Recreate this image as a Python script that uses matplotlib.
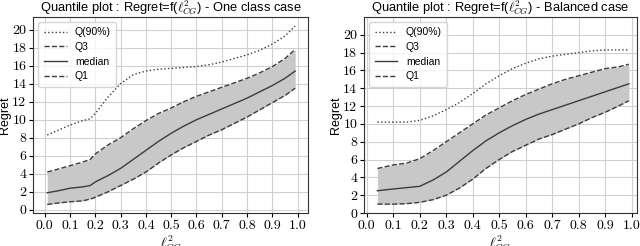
import numpy as np
import matplotlib
matplotlib.use("Agg")
import matplotlib.pyplot as plt

plt.rcParams["mathtext.fontset"] = "cm"
plt.rcParams["font.family"] = ["Liberation Sans", "DejaVu Sans"]

# one class case
x1 = [0.01, 0.05, 0.10, 0.15, 0.18, 0.20, 0.25, 0.30, 0.35, 0.40, 0.45, 0.50, 0.55, 0.60, 0.65, 0.70, 0.75, 0.80, 0.85, 0.90, 0.95, 0.99]
q90_1 = [8.3, 8.8, 9.4, 9.9, 10.1, 10.7, 12.5, 14.0, 15.0, 15.4, 15.6, 15.7, 15.8, 15.9, 16.1, 16.4, 16.8, 17.2, 17.7, 18.4, 19.3, 20.4]
q3_1 = [4.2, 4.5, 4.9, 5.3, 5.6, 6.2, 7.2, 8.0, 9.0, 9.9, 10.7, 11.3, 12.0, 12.6, 13.1, 13.6, 14.1, 14.6, 15.2, 15.9, 16.8, 17.8]
med_1 = [1.9, 2.1, 2.4, 2.55, 2.7, 3.1, 3.8, 4.6, 5.6, 6.6, 7.6, 8.5, 9.3, 10.0, 10.6, 11.2, 11.8, 12.4, 13.1, 13.8, 14.6, 15.4]
q1_1 = [0.6, 0.75, 0.9, 1.0, 1.2, 1.4, 2.0, 2.7, 3.4, 4.2, 5.2, 6.1, 6.9, 7.6, 8.3, 8.9, 9.6, 10.3, 11.1, 11.9, 12.7, 13.5]

# balanced case
x2 = [0.04, 0.10, 0.15, 0.20, 0.25, 0.30, 0.35, 0.40, 0.45, 0.50, 0.55, 0.60, 0.65, 0.70, 0.75, 0.80, 0.85, 0.90, 0.95, 0.99]
q90_2 = [10.2, 10.2, 10.2, 10.4, 10.9, 11.6, 12.4, 13.4, 14.5, 15.4, 16.2, 16.8, 17.3, 17.6, 17.8, 18.0, 18.2, 18.3, 18.3, 18.3]
q3_2 = [5.0, 5.4, 5.6, 6.1, 7.0, 8.0, 9.0, 10.0, 11.0, 11.8, 12.6, 13.3, 13.9, 14.5, 15.0, 15.4, 15.8, 16.2, 16.4, 16.7]
med_2 = [2.5, 2.7, 2.85, 3.0, 3.7, 4.6, 5.8, 7.0, 8.1, 9.0, 9.8, 10.5, 11.1, 11.6, 12.1, 12.6, 13.1, 13.6, 14.1, 14.5]
q1_2 = [1.0, 1.0, 1.05, 1.2, 1.5, 2.0, 2.8, 3.8, 5.0, 6.0, 6.9, 7.6, 8.3, 8.8, 9.4, 10.0, 10.7, 11.3, 12.0, 12.6]

xticks = [0.0, 0.1, 0.2, 0.3, 0.4, 0.5, 0.6, 0.7, 0.8, 0.9, 1.0]
xticklabels = ["0.0", "0.1", "0.2", "0.3", "0.4", "0.5", "0.6", "0.7", "0.8", "0.9", "1.0"]
yticks = [0, 2, 4, 6, 8, 10, 12, 14, 16, 18, 20]
yticklabels = ["0", "2", "4", "6", "8", "10", "12", "14", "16", "18", "20"]

line_c = "#3c3c3c"
fill_c = "#c8c8c8"

fig = plt.figure(figsize=(6.4, 2.46), dpi=100)
ax1 = fig.add_axes([0.052, 0.134, 0.429, 0.797])
ax2 = fig.add_axes([0.569, 0.134, 0.426, 0.797])

panels = [
    (ax1, x1, q90_1, q3_1, med_1, q1_1, "One class case", (-0.045, 1.04), (-0.35, 21.4)),
    (ax2, x2, q90_2, q3_2, med_2, q1_2, "Balanced case", (-0.01, 1.02), (0, 22)),
]

for ax, x, q90, q3, med, q1, name, xl, yl in panels:
    ax.fill_between(x, q1, q3, color=fill_c, lw=0)
    ax.plot(x, q90, ":", color=line_c, lw=1.0, label="Q(90%)")
    ax.plot(x, q3, "--", color=line_c, lw=1.0, label="Q3")
    ax.plot(x, med, "-", color=line_c, lw=1.0, label="median")
    ax.plot(x, q1, "--", color=line_c, lw=1.0, label="Q1")
    ax.set_xlim(*xl)
    ax.set_ylim(*yl)
    ax.set_xticks(xticks, labels=xticklabels, fontfamily="cmr10", fontsize=10)
    ax.set_yticks(yticks, labels=yticklabels, fontfamily="cmr10", fontsize=10)
    ax.grid(True, color="#d0d0d0", lw=0.8)
    ax.set_axisbelow(True)
    ax.tick_params(length=3, pad=2)
    for s in ax.spines.values():
        s.set_color("#333333")
    ax.set_title(r"Quantile plot : Regret=f($\ell^2_{CG}$) - " + name, fontsize=9.3, pad=2)
    ax.set_ylabel("Regret", fontsize=9, labelpad=1)
    ax.set_xlabel(r"$\ell^2_{CG}$", fontsize=10, labelpad=1)
    leg = ax.legend(loc="upper left", fontsize=7.5, handlelength=2.2, borderpad=0.5,
                    labelspacing=0.45, fancybox=True)
    leg.get_frame().set_edgecolor("#cccccc")

fig.savefig("out.png", dpi=100)
